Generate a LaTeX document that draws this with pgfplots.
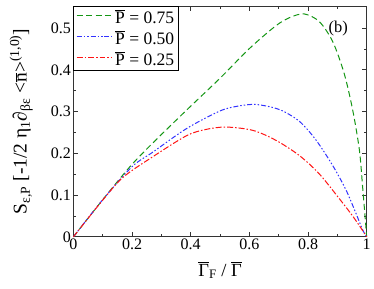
\documentclass[border=0pt]{standalone}
\usepackage{fontspec}
\setmainfont{Liberation Serif}
\usepackage{pgfplots}
\pgfplotsset{compat=1.18}
\definecolor{cgreen}{RGB}{20,150,20}
\definecolor{cblue}{RGB}{50,50,255}
\definecolor{cred}{RGB}{255,20,20}
\tikzset{
  sgreen/.style={draw=cgreen, color=cgreen, line width=1pt, dash pattern=on 6pt off 3.5pt},
  sblue/.style={draw=cblue, color=cblue, line width=1pt, dash pattern=on 5pt off 2pt on 1.5pt off 2pt on 1.5pt off 2pt},
  sred/.style={draw=cred, color=cred, line width=1pt, dash pattern=on 6pt off 2pt on 1.5pt off 2pt},
}
\begin{document}
\begin{tikzpicture}
\begin{axis}[
  scale only axis, width=293.5pt, height=231pt,
  clip=false,
  xmin=0, xmax=1, ymin=0, ymax=0.553,
  xtick={0,0.2,0.4,0.6,0.8,1}, xticklabels={0,0.2,0.4,0.6,0.8,1},
  ytick={0,0.1,0.2,0.3,0.4,0.5}, yticklabels={0,0.1,0.2,0.3,0.4,0.5},
  minor x tick num=1, minor y tick num=1,
  tick align=inside, xtick pos=both, ytick pos=both,
  major tick length=5pt, minor tick length=3pt,
  axis line style={line width=0.9pt, black!80},
  every tick/.style={line width=0.8pt, black!80},
  ticklabel style={font=\fontsize{16}{16}\selectfont},
  xticklabel style={yshift=1pt},
  yticklabel style={xshift=1pt},
  /pgf/number format/assume math mode=true,
  xlabel={\fontsize{18.5}{18.5}\selectfont $\overline{\mbox{Γ}}$\textsubscript{F} / $\overline{\mbox{Γ}}$},
  ylabel={\fontsize{19.5}{19.5}\selectfont S\textsubscript{ε,P} [-1/2 η\textsubscript{1}∂\textsubscript{βε} <$\overline{\mbox{n}}$>\textsuperscript{(1,0)}]},
  xlabel style={at={(axis description cs:0.5,-0.145)}, anchor=center},
  ylabel style={at={(axis description cs:-0.178,0.5)}, anchor=center},
  legend style={at={(0,1)}, anchor=north west, line width=0.8pt,
    font=\fontsize{17.5}{17.5}\selectfont, row sep=2pt, inner xsep=2pt, inner ysep=1.5pt},
  legend cell align=left,
  legend image code/.code={\draw[#1, line width=1.4pt] (0pt,0.35ex) -- (36pt,0.35ex);},
]
\addlegendimage{sgreen}
\addlegendentry{$\overline{\mbox{P}}$ = 0.75}
\addlegendimage{sblue}
\addlegendentry{$\overline{\mbox{P}}$ = 0.50}
\addlegendimage{sred}
\addlegendentry{$\overline{\mbox{P}}$ = 0.25}
\addplot[sgreen, smooth, tension=0.5, forget plot] coordinates {
(0,0) (0.1,0.089) (0.194,0.169) (0.271,0.225) (0.385,0.303) (0.5,0.38) (0.6,0.451) (0.691,0.506) (0.74,0.526) (0.787,0.534) (0.838,0.516) (0.884,0.468) (0.923,0.392) (0.952,0.305) (0.975,0.209) (0.986,0.121) (0.995,0.045) (1,0)};
\addplot[sblue, smooth, tension=0.5, forget plot] coordinates {
(0,0) (0.1,0.089) (0.2,0.168) (0.271,0.203) (0.385,0.259) (0.498,0.301) (0.56,0.313) (0.623,0.317) (0.702,0.305) (0.77,0.277) (0.827,0.232) (0.884,0.171) (0.929,0.113) (0.963,0.057) (0.986,0.017) (1,0)};
\addplot[sred, smooth, tension=0.5, forget plot] coordinates {
(0,0) (0.1,0.088) (0.17,0.143) (0.271,0.192) (0.385,0.242) (0.45,0.257) (0.52,0.263) (0.612,0.255) (0.691,0.231) (0.77,0.195) (0.838,0.151) (0.906,0.092) (0.952,0.050) (0.991,0.010) (1,0)};
\node[font=\fontsize{16.5}{16.5}\selectfont] at (axis cs:0.903,0.50) {(b)};
\path (rel axis cs:-0.2504,-0.2251) rectangle (rel axis cs:1.0239,1.026);
\end{axis}
\end{tikzpicture}
\end{document}
